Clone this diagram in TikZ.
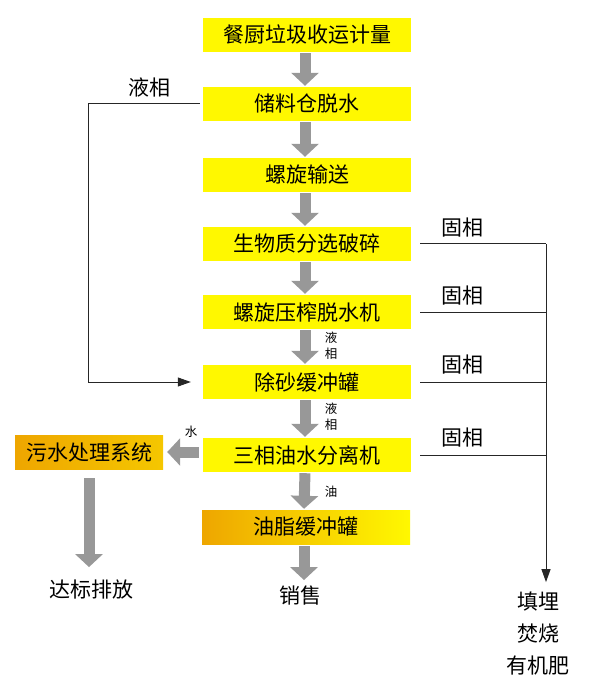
\documentclass[tikz,border=0pt]{standalone}
\usepackage{fontspec}
\setmainfont{Noto Sans CJK SC}
\usetikzlibrary{arrows.meta}

\definecolor{boxyellow}{RGB}{255,248,0}
\definecolor{boxorange}{RGB}{238,166,0}
\definecolor{arrowgray}{RGB}{152,152,152}

\begin{document}
\begin{tikzpicture}[x=1pt,y=-1pt,
    box/.style={fill=boxyellow,minimum width=208pt,minimum height=34pt,inner sep=0pt,font=\fontsize{21}{24}\selectfont},
    fat/.style={draw=arrowgray,line width=11pt,-{Triangle[width=27pt,length=13pt]}},
    thin/.style={draw=black!85,line width=1pt},
    big/.style={inner sep=0pt,font=\fontsize{21}{24}\selectfont},
    small/.style={inner sep=0pt,align=center,font=\fontsize{12.5}{16}\selectfont}]

\useasboundingbox (0,0) rectangle (600,692);

\foreach \n/\y/\t in {s1/35/餐厨垃圾收运计量,s2/104/储料仓脱水,s3/175/螺旋输送,s4/244/生物质分选破碎,s5/312/螺旋压榨脱水机,s6/382/除砂缓冲罐,s7/455/三相油水分离机}
    \node[box] (\n) at (307,\y) {\t};

\node[box,left color=boxorange,right color=boxyellow] (s8) at (306,527) {油脂缓冲罐};
\node[box,minimum width=148pt,left color=boxorange,right color=boxorange!60!boxyellow] (ws) at (89,452) {污水处理系统};

\foreach \a/\b in {s1/s2,s2/s3,s3/s4,s4/s5,s5/s6,s6/s7,s7/s8}
    \draw[fat,shorten <=1pt,shorten >=1pt] ([xshift=-2pt]\a.south) -- ([xshift=-2pt]\b.north);

\node[big] (sell) at (300,596) {销售};
\node[big] (out) at (91,590) {达标排放};
\node[big,align=center,font=\fontsize{21}{32}\selectfont] (end) at (538,634) {填埋\\焚烧\\有机肥};

\draw[fat,shorten <=2pt,shorten >=6pt] ([xshift=-2pt]s8.south) -- ([xshift=-2pt]sell.north -| s8.south);
\draw[fat,shorten <=9pt,shorten >=13pt] (ws.south) -- (out.north -| ws.south);
\draw[fat,shorten <=4pt,shorten >=4pt] (s7.west |- ws.east) -- (ws.east);

% liquid back to the sand tank
\node[big] (lq) at (149,87) {液相};
\coordinate (lc) at (88,104);
\draw[thin,shorten <=3pt,shorten >=12pt,-{Triangle[length=13pt,width=9pt]}] (s2.west) -- (lc) |- (s6.west);

\node[small] (l1) at (331,346) {液\\相};
\node[small] (l2) at (331,417) {液\\相};
\node[small] (oil) at (331,492) {油};
\node[small] (wat) at (191,432) {水};

% solids
\foreach \n/\y in {g1/228,g2/296,g3/365,g4/438}
    \node[big] (\n) at (462,\y) {固相};

\coordinate (rtop) at (546,244);
\foreach \a in {s4,s5,s6,s7}
    \draw[thin,shorten <=9pt] (\a.east) -- (\a.east -| rtop);
\draw[thin,shorten >=10pt,-{Triangle[length=13pt,width=9pt]}] (rtop) -- (rtop |- end.north);

\end{tikzpicture}
\end{document}
